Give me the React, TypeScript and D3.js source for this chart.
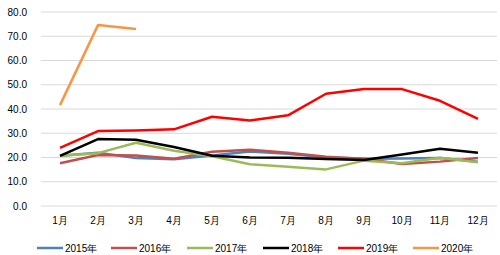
import React from "react";
import * as d3 from "d3";

const months = ["1月","2月","3月","4月","5月","6月","7月","8月","9月","10月","11月","12月"];
const yTicks = [0, 10, 20, 30, 40, 50, 60, 70, 80];

const s2015 = [20.7, 22.0, 19.8, 19.3, 20.8, 22.5, 21.5, 20.0, 19.5, 19.6, 19.8, 18.2];
const s2016 = [17.6, 21.0, 20.8, 19.5, 22.4, 23.2, 22.0, 20.3, 19.5, 17.3, 18.3, 19.8];
const s2017 = [20.7, 21.8, 26.1, 22.8, 20.5, 17.2, 16.2, 15.1, 18.7, 17.6, 19.9, 18.0];
const s2018 = [20.7, 27.6, 27.3, 24.3, 20.7, 20.0, 19.9, 19.4, 19.0, 21.2, 23.6, 22.0];
const s2019 = [24.0, 30.9, 31.1, 31.6, 36.8, 35.3, 37.4, 46.3, 48.2, 48.2, 43.4, 35.9];
const s2020 = [41.6, 74.6, 73.0];

const seriesNames = ["2015年","2016年","2017年","2018年","2019年","2020年"];
const seriesData = [s2015, s2016, s2017, s2018, s2019, s2020];
const colors = ["#4F81BD", "#C0504D", "#9BBB59", "#000000", "#FF0000", "#F79646"];
const legendX = [37, 111, 187, 263, 338, 413];

export default function App() {
  const W = 500, H = 255;
  const x = d3.scaleBand<string>().domain(months).range([41, 497]);
  const y = d3.scaleLinear().domain([0, 80]).range([206, 12]);
  const line = d3.line<number>()
    .x((_, i) => (x(months[i]) as number) + x.bandwidth() / 2)
    .y(d => y(d));
  const font = "'Liberation Sans', Arial, sans-serif";
  return (
    <svg width={W} height={H} style={{ position: "absolute", left: 0, top: 0, background: "#fff" }}
      fontFamily={font}>
      {yTicks.map(t => (
        <g key={t}>
          <line x1={41} x2={497} y1={y(t)} y2={y(t)} stroke="#d9d9d9" strokeWidth={1} />
          <text x={27} y={y(t)} dy="0.35em" textAnchor="end" fontSize={10} fill="#000">{t.toFixed(1)}</text>
        </g>
      ))}
      {months.map(m => (
        <text key={m} x={(x(m) as number) + x.bandwidth() / 2} y={224} textAnchor="middle" fontSize={10} fill="#000">{m}</text>
      ))}
      {seriesData.map((s, i) => (
        <path key={i} d={line(s) || ""} fill="none" stroke={colors[i]} strokeWidth={2.5} strokeLinejoin="round" />
      ))}
      {seriesNames.map((n, i) => (
        <g key={n}>
          <line x1={legendX[i]} x2={legendX[i] + 26} y1={248} y2={248} stroke={colors[i]} strokeWidth={2.5} />
          <text x={legendX[i] + 28} y={248} dy="0.35em" fontSize={10} fill="#000">{n}</text>
        </g>
      ))}
    </svg>
  );
}
